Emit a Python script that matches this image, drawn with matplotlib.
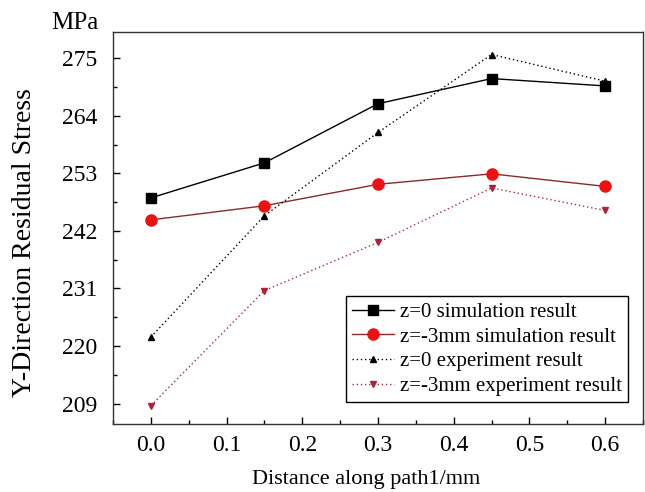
import matplotlib
matplotlib.use("Agg")
import matplotlib.pyplot as plt
from matplotlib.ticker import MultipleLocator, FixedLocator

plt.rcParams['font.family'] = ['Liberation Serif', 'DejaVu Serif']

distance = [0.0, 0.15, 0.3, 0.45, 0.6]
sim_z0 = [248.3, 255.0, 266.3, 271.1, 269.7]
sim_z3 = [244.1, 246.8, 250.9, 252.9, 250.5]
exp_z0 = [221.7, 244.9, 260.8, 275.7, 270.6]
exp_z3 = [208.6, 230.6, 239.8, 250.2, 245.9]

y_ticks = [209, 220, 231, 242, 253, 264, 275]
x_ticks = [0.0, 0.1, 0.2, 0.3, 0.4, 0.5, 0.6]

fig = plt.figure(figsize=(6.45, 4.92), dpi=100)
ax = fig.add_axes([113 / 645, 1 - 424 / 492, 530 / 645, 392 / 492])

ax.plot(distance, sim_z0, color='black', lw=1.0, marker='s', ms=7,
        mfc='black', mec='black', label='z=0 simulation result')
ax.plot(distance, sim_z3, color='#8b2a2a', lw=1.0, marker='o', ms=8,
        mfc='#ee1111', mec='#ee1111', label='z=-3mm simulation result')
ax.plot(distance, exp_z0, color='black', lw=1.0, ls=(0, (1, 2)), marker='^', ms=5,
        mfc='black', mec='black', label='z=0 experiment result')
ax.plot(distance, exp_z3, color='#a03040', lw=1.0, ls=(0, (1, 2)), marker='v', ms=5,
        mfc='#b0203a', mec='#b0203a', label='z=-3mm experiment result')

ax.set_xlim(-0.05, 0.65)
ax.set_ylim(205.1, 280.0)
ax.xaxis.set_major_locator(FixedLocator(x_ticks))
ax.xaxis.set_minor_locator(MultipleLocator(0.05))
ax.yaxis.set_major_locator(FixedLocator(y_ticks))
ax.yaxis.set_minor_locator(FixedLocator([t + 5.5 for t in y_ticks]))
ax.set_xticklabels([f'{v:.1f}' for v in x_ticks])
ax.set_yticklabels([str(v) for v in y_ticks])

ax.tick_params(which='major', direction='in', length=5, width=1.0,
               labelsize=17, top=False, right=False)
ax.tick_params(which='minor', direction='in', length=3, width=1.0,
               top=False, right=False)
ax.tick_params(axis='y', pad=11)
ax.tick_params(axis='x', pad=8)
for sp in ax.spines.values():
    sp.set_linewidth(1.0)
    sp.set_color('#333333')

ax.set_xlabel('Distance along path1/mm', fontsize=16)
ax.set_ylabel('Y-Direction Residual Stress', fontsize=20)
ax.xaxis.set_label_coords(0.477, -0.117)
ax.yaxis.set_label_coords(-0.143, 0.464)
fig.text(75 / 645, 1 - 23 / 492, 'MPa', fontsize=18, ha='center', va='center')

leg = ax.legend(loc='lower right', bbox_to_anchor=(0.972, 0.055), fontsize=15,
                frameon=True, fancybox=False, edgecolor='black', framealpha=1,
                handlelength=2.0, handletextpad=0.3, borderpad=0.3,
                labelspacing=0.25, borderaxespad=0)
leg.get_frame().set_linewidth(1.0)

fig.savefig('out.png', dpi=100)
